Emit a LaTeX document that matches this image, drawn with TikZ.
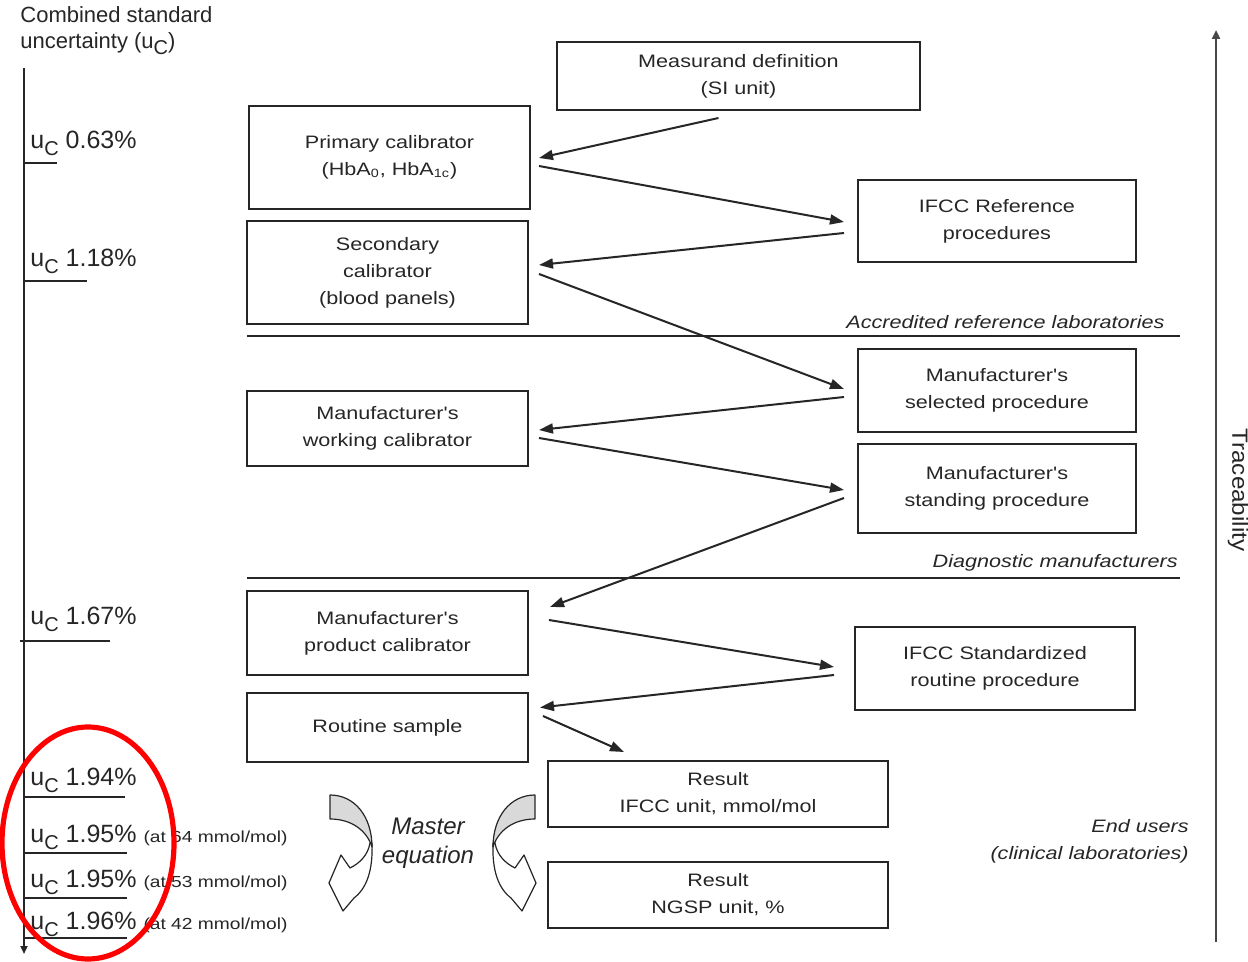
\documentclass[tikz,border=0pt]{standalone}
\usepackage{fontspec}
\setmainfont{Liberation Sans}
\newfontfamily\boxfont[FakeStretch=1.2]{Liberation Sans}
\newfontfamily\tracefont[FakeStretch=1.1]{Liberation Sans}
\usetikzlibrary{arrows.meta,calc}
\definecolor{ink}{HTML}{262626}
\definecolor{ribbonfill}{HTML}{D9D9D9}

% u with a large lowered C, as used on the uncertainty axis
\newcommand{\uC}{u\raisebox{-0.28em}{\fontsize{10}{10}\selectfont C}}
\newcommand{\atconc}[1]{{\boxfont\fontsize{8}{10}\selectfont(at #1 mmol/mol)}}

\tikzset{
  % twisted hollow arrow used on both sides of the master equation
  ribbon/.pic={
    \draw[draw=ink, line width=0.6pt, fill=white, line join=round]
      (40,48) .. controls (38,60) and (30,68) .. (20,73)
      -- (11,60) -- (-1,88) -- (13,116) -- (24,103)
      .. controls (37,93) and (43,75) .. (42,48) -- cycle;
    \draw[draw=ink, line width=0.6pt, fill=ribbonfill, line join=round]
      (0,0) .. controls (25,0) and (42,22) .. (42,52)
      .. controls (37,36) and (22,24) .. (0,24) -- cycle;
  }
}

\begin{document}
\begin{tikzpicture}[x=0.5pt,y=-0.5pt,
  box/.style={draw=ink, line width=1pt, fill=white, align=center, inner sep=0pt,
    text=ink, font=\boxfont\fontsize{9}{13.5}\selectfont},
  lbox/.style={box, minimum width=140.5pt},
  rbox/.style={box, minimum width=139pt},
  flow/.style={draw=ink, line width=1pt, -{Triangle[length=7pt,width=5pt]}},
  tick/.style={draw=ink, line width=1.1pt},
  sep/.style={draw=ink, line width=1.2pt},
  ulab/.style={anchor=base west, inner sep=0pt, text=ink, font=\fontsize{12.5}{14}\selectfont},
  group/.style={inner sep=0pt, text=ink, align=right, font=\boxfont\itshape\fontsize{9}{13.5}\selectfont}
]
\fill[white] (0,0) rectangle (1248,962);
\useasboundingbox (0,0) rectangle (1248,962);

% ---------- uncertainty axis ----------
\node[anchor=north west, inner sep=0pt, align=left, text=ink,
      font=\fontsize{11}{13}\selectfont] (title) at (20,6)
  {Combined standard\\uncertainty (\uC)};
\coordinate (axtop) at (24,68);
\coordinate (axbot) at (24,954);
\draw[draw=ink, line width=1.1pt, -{Triangle[length=4pt,width=3.5pt]}] (axtop) -- (axbot);

\node[ulab] (u1) at (30,149) {\uC{} 0.63\%};
\draw[tick] (24,163) -- (57,163);
\node[ulab] (u2) at (30,267) {\uC{} 1.18\%};
\draw[tick] (24,281) -- (87,281);
\node[ulab] (u3) at (30,624) {\uC{} 1.67\%};
\draw[tick] (20,641) -- (110,641);
\node[ulab] (u4) at (30,785) {\uC{} 1.94\%};
\draw[tick] (24,797) -- (125,797);
\node[ulab] (u5) at (30,842) {\uC{} 1.95\% \atconc{64}};
\draw[tick] (24,853) -- (127,853);
\node[ulab] (u6) at (30,887) {\uC{} 1.95\% \atconc{53}};
\draw[tick] (24,898) -- (127,898);
\node[ulab] (u7) at (30,929) {\uC{} 1.96\% \atconc{42}};
\draw[tick] (24,938) -- (127,938);

% ---------- traceability axis ----------
\coordinate (trbot) at (1216,942);
\coordinate (trtop) at (1216,30);
\draw[draw=ink!85, line width=1.1pt, -{Triangle[length=4.5pt,width=4pt]}] (trbot) -- (trtop);
\node[rotate=-90, inner sep=0pt, text=ink, font=\tracefont\fontsize{11}{13}\selectfont] (trace) at (1238,490) {Traceability};

% ---------- group separators ----------
\draw[sep] (247,336) -- (1180,336);
\node[group, anchor=east] (acc) at (1165,322) {Accredited reference laboratories};
\draw[sep] (247,578) -- (1180,578);
\node[group, anchor=east] (diag) at (1178,563) {Diagnostic manufacturers};
\node[group, anchor=east] (endu) at (1189,841) {End users\\(clinical laboratories)};

% ---------- boxes ----------
\node[box, minimum width=181.5pt, minimum height=34pt] (meas) at (738.5,76)
  {Measurand definition\\(SI unit)};
\node[lbox, minimum height=51.5pt] (prim) at (389.5,157.5)
  {Primary calibrator\\(HbA\textsubscript{0}, HbA\textsubscript{1c})};
\node[rbox, minimum height=41pt] (ifccref) at (997,221)
  {IFCC Reference\\procedures};
\node[lbox, minimum height=51.5pt] (sec) at (387.5,272.5)
  {Secondary\\calibrator\\(blood panels)};
\node[rbox, minimum height=41.5pt] (sel) at (997,390.5)
  {Manufacturer's\\selected procedure};
\node[lbox, minimum height=37.5pt] (work) at (387.5,428.5)
  {Manufacturer's\\working calibrator};
\node[rbox, minimum height=44.5pt] (stand) at (997,488.5)
  {Manufacturer's\\standing procedure};
\node[lbox, minimum height=42pt] (prod) at (387.5,633)
  {Manufacturer's\\product calibrator};
\node[box, minimum width=140pt, minimum height=41.5pt] (ifccstd) at (995,668.5)
  {IFCC Standardized\\routine procedure};
\node[lbox, minimum height=34.5pt] (routine) at (387.5,727.5)
  {Routine sample};
\node[box, minimum width=170pt, minimum height=33pt] (res1) at (718,794)
  {Result\\IFCC unit, mmol/mol};
\node[box, minimum width=170pt, minimum height=33pt] (res2) at (718,895)
  {Result\\NGSP unit, \%};

% ---------- traceability chain ----------
\draw[flow] ($(meas.south)+(-20,7)$) -- ($(prim.east)+(8,0.5)$);
\draw[flow] ($(prim.east)+(8,8.5)$) -- ($(ifccref.west)+(-13,1)$);
\draw[flow] ($(ifccref.west)+(-13,12)$) -- ($(sec.east)+(10,-7.5)$);
\draw[flow] ($(sec.east)+(10,1.5)$) -- ($(sel.west)+(-13,-1.5)$);
\draw[flow] ($(sel.west)+(-13,6.5)$) -- ($(work.east)+(10,1.5)$);
\draw[flow] ($(work.east)+(10,9.5)$) -- ($(stand.west)+(-13,1.5)$);
\draw[flow] ($(stand.west)+(-13,9.5)$) -- ($(prod.east)+(21,-26)$);
\draw[flow] ($(prod.east)+(20,-13)$) -- ($(ifccstd.west)+(-20,-1.5)$);
\draw[flow] ($(ifccstd.west)+(-20,6.5)$) -- ($(routine.east)+(11,-20)$);
\draw[flow] ($(routine.east)+(14,-11.5)$) -- ($(res1.north)+(-94,-8)$);

% ---------- master equation ----------
\pic at (330,795) {ribbon};
\pic[xscale=-1] at (535,795) {ribbon};
\node[inner sep=0pt, align=center, text=ink, font=\itshape\fontsize{12}{14.5}\selectfont]
  (master) at (428,843) {Master\\equation};

% ---------- highlight ----------
\draw[red, line width=2.6pt] (88,843) ellipse [x radius=43pt, y radius=58pt];
\end{tikzpicture}
\end{document}
